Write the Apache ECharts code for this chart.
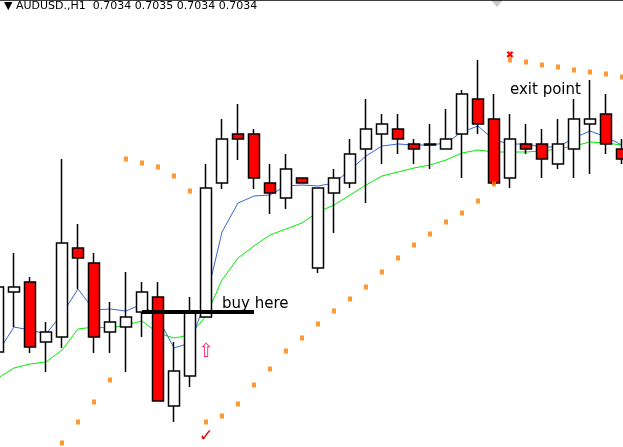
<!DOCTYPE html>
<html><head><meta charset="utf-8">
<script src="https://cdn.jsdelivr.net/npm/echarts@6/dist/echarts.min.js"></script>
<style>html,body{margin:0;padding:0;background:#fff;overflow:hidden;width:623px;height:447px;position:relative}#c{position:absolute;left:-10px;top:0;width:640px;height:447px}</style>
</head><body><div id="c"></div>
<script>
// Values are in chart units (screen-like price scale, larger = lower price)
const categories = Array.from({length:40},(_,i)=>'H'+i);
const opens  = [352,292,282,342,337,248,263,332,327,312,297,406,376,317,183,134,134,183,198,178,268,193,183,149,134,129,144,144,149,134, 99,119,178,144,144,164,149,124,114,149];
const closes = [287,287,347,332,243,258,337,322,317,292,401,371,312,188,139,139,178,193,169,183,188,178,154,129,124,139,149,145,139, 94,124,183,139,149,159,144,119,119,144,159];
const lows   = [287,253,277,322,159,224,253,302,272,282,282,342,297,164,119,104,129,164,154,178,188,169,139, 99,114,114,139,124,109, 90, 60, 94,114,124,129,119, 99, 80, 94,139];
const highs  = [352,327,353,372,348,289,353,353,372,337,401,422,387,317,189,160,189,214,209,183,273,233,188,203,164,154,164,169,149,178,134,185,188,154,178,169,178,174,154,164];
const fastMA = [352,327,330,334,314,289,310,309,311,304,318,348,343,300,232,203,196,195,186,185,186,183,170,156,146,144,145,145,143,132,126,140,144,144,147,147,138,131,137,145];
const slowMA = [378,368,364,362,350,329,327,328,325,321,333,338,335,316,280,258,246,235,229,223,212,205,195,185,176,172,168,165,160,153,150,152,152,152,151,149,146,142,143,145];
const sar    = [null,null,null,null,443,422,402,380,159,163,167,176,191,422,416,404,385,369,351,338,324,311,299,287,272,258,245,234,222,213,201,184,60,62,65,67,70,72,74,77];

const ohlc = categories.map((c,i)=>[opens[i],closes[i],Math.min(lows[i],highs[i]),Math.max(lows[i],highs[i])]);

const chart = echarts.init(document.getElementById('c'));
chart.setOption({
  animation:false,
  backgroundColor:'#fff',
  grid:{left:0,width:640,top:0,height:446,containLabel:false},
  xAxis:{type:'category',data:categories,boundaryGap:true,
    axisLine:{show:true,lineStyle:{color:'#000',width:1.5}},axisTick:{show:false},axisLabel:{show:false},splitLine:{show:false}},
  yAxis:{type:'value',inverse:true,min:0,max:446,show:false,splitLine:{show:false}},
  graphic:[{type:'text',left:14,top:1,style:{text:'▼ AUDUSD.,H1  0.7034 0.7035 0.7034 0.7034',font:'11px "DejaVu Sans"',fill:'#000'}},
           {type:'polygon',shape:{points:[[501,0],[513,0],[507,7]]},style:{fill:'#c8c8c8'}}],
  series:[
    {type:'line',data:slowMA,symbol:'none',lineStyle:{color:'#00ee00',width:1},z:2},
    {type:'line',data:fastMA,symbol:'none',lineStyle:{color:'#3a66d8',width:1},z:2},
    {type:'candlestick',data:ohlc,barWidth:11,z:3,
      itemStyle:{color:'#ff0000',color0:'#ffffff',borderColor:'#000',borderColor0:'#000',borderWidth:1.5},
      markLine:{symbol:'none',silent:true,label:{show:false},
        lineStyle:{color:'#000',width:4,type:'solid'},
        data:[[{coord:[9.0,312]},{coord:[16.1,312]}]]},
      markPoint:{symbol:'circle',symbolSize:0,silent:true,
        data:[
          {coord:[14.2,304],label:{show:true,formatter:'buy here',fontSize:15,color:'#000',fontFamily:'DejaVu Sans',align:'left'}},
          {coord:[32.0,90],label:{show:true,formatter:'exit point',fontSize:15,color:'#000',fontFamily:'DejaVu Sans',align:'left'}},
          {coord:[13.06,352],label:{show:true,formatter:'⇧',fontSize:19,color:'#ff3070',fontFamily:'DejaVu Sans'}},
          {coord:[13.0,437],label:{show:true,formatter:'✓',fontSize:17,color:'#e00000',fontWeight:'bold',fontFamily:'DejaVu Sans'}},
          {coord:[32.0,55],label:{show:true,formatter:'✖',fontSize:10,color:'#ff0000',fontFamily:'DejaVu Sans'}}
        ]}},
    {type:'scatter',data:sar,symbol:'rect',symbolSize:[4,5],itemStyle:{color:'#ff8000'},z:4}
  ]
});
</script></body></html>
